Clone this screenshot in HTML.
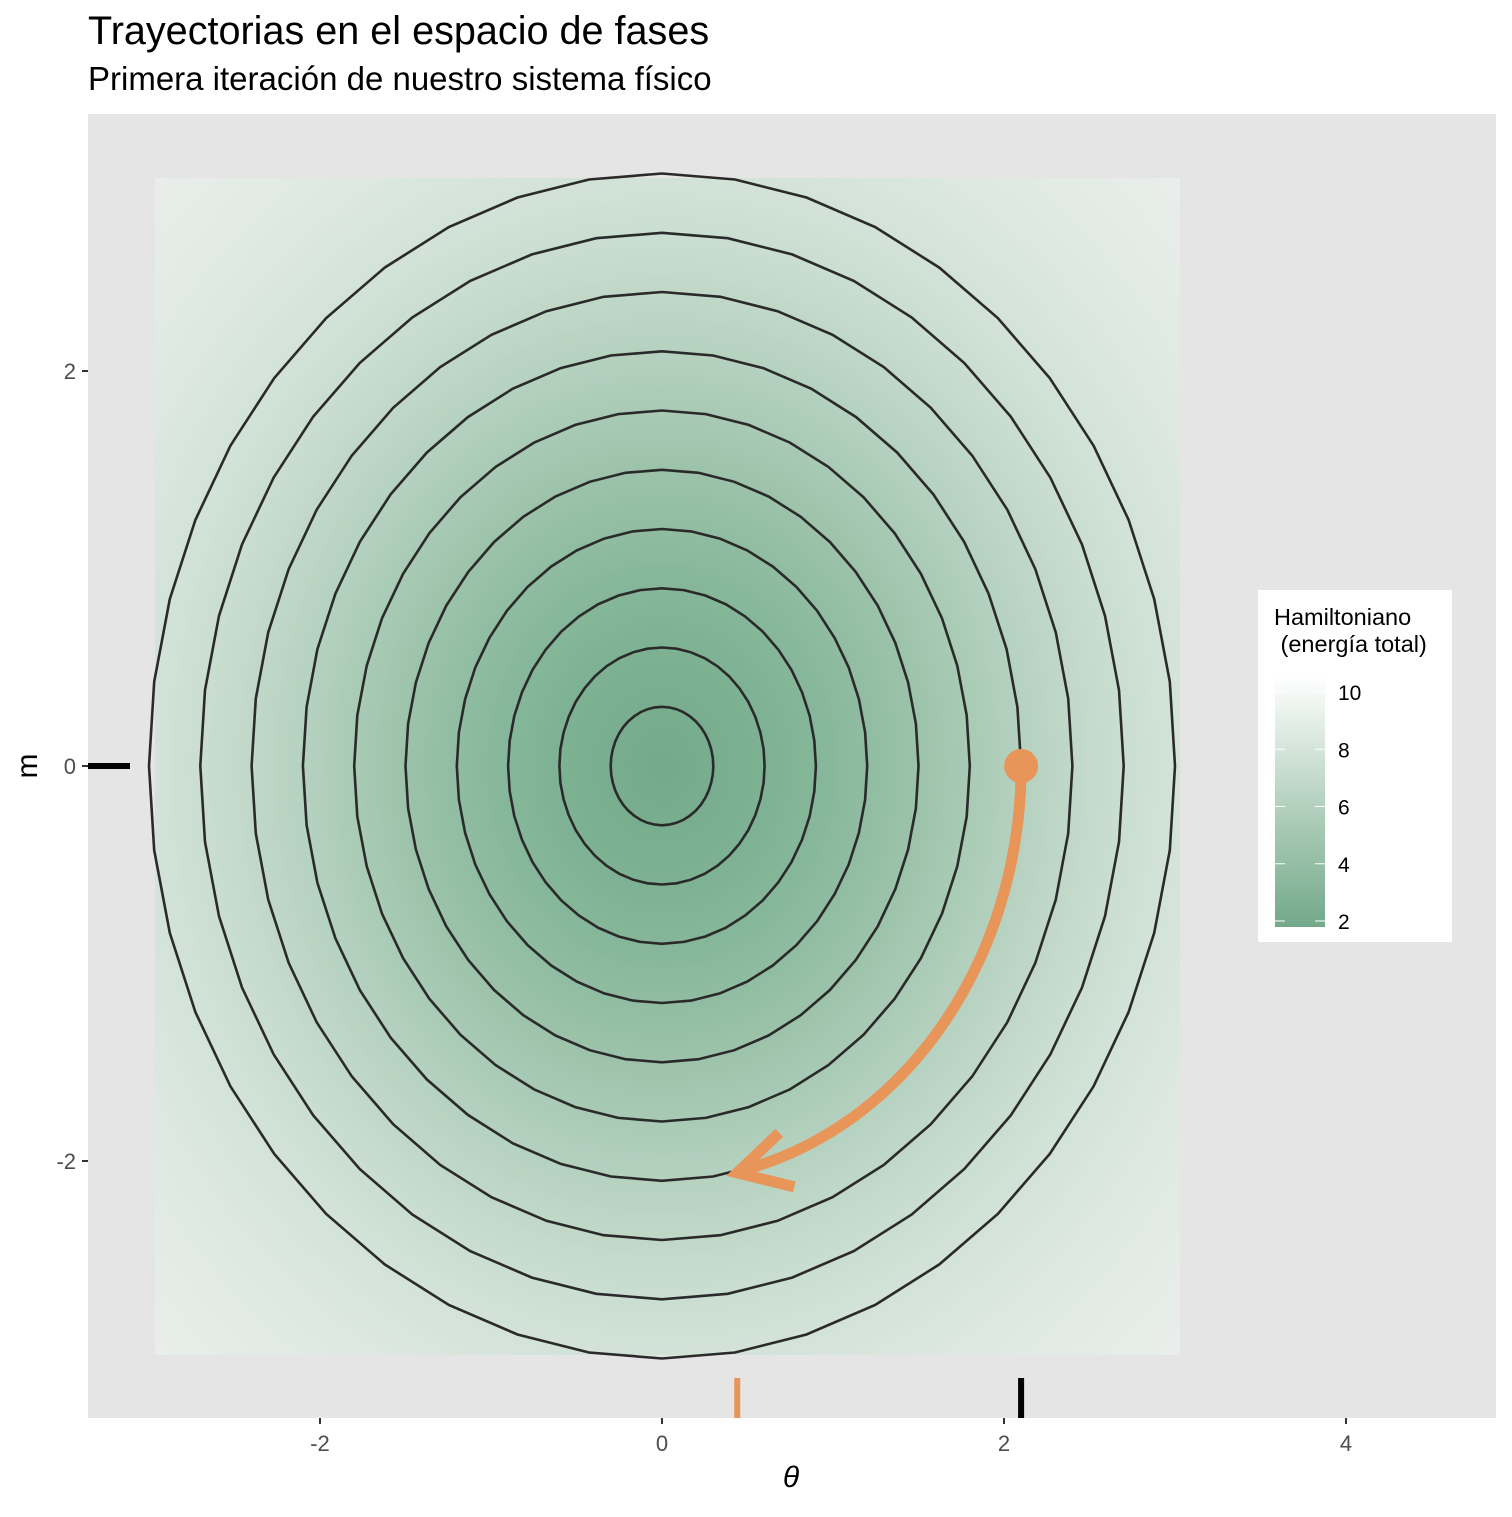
<!DOCTYPE html>
<html><head><meta charset="utf-8"><style>
body{margin:0;background:#fff;}
text{font-family:"Liberation Sans",sans-serif;}
</style></head><body>
<svg width="1512" height="1512" viewBox="0 0 1512 1512" xmlns="http://www.w3.org/2000/svg">
<defs>
<radialGradient id="hgrad" gradientUnits="userSpaceOnUse" cx="662" cy="766" r="855" gradientTransform="translate(662 766) scale(1 1.155) translate(-662 -766)">
<stop offset="0" stop-color="#74aa8b"/>
<stop offset="0.1" stop-color="#7bb091"/>
<stop offset="0.2" stop-color="#88b89b"/>
<stop offset="0.3" stop-color="#9cc3aa"/>
<stop offset="0.4" stop-color="#b1cfbc"/>
<stop offset="0.5" stop-color="#c4dacb"/>
<stop offset="0.6" stop-color="#d3e3d9"/>
<stop offset="0.72" stop-color="#e0eae3"/>
<stop offset="0.85" stop-color="#eaeeeb"/>
<stop offset="1" stop-color="#f0f1f0"/>
</radialGradient>
<linearGradient id="lgrad" x1="0" y1="1" x2="0" y2="0">
<stop offset="0" stop-color="#73a98a"/>
<stop offset="0.5" stop-color="#b6d2c0"/>
<stop offset="1" stop-color="#ffffff"/>
</linearGradient>
</defs>
<text x="88" y="44" font-size="39.6" fill="#000">Trayectorias en el espacio de fases</text>
<text x="88" y="90" font-size="33" fill="#000">Primera iteración de nuestro sistema físico</text>
<rect x="88" y="114" width="1408" height="1304" fill="#e5e5e5"/>
<rect x="155" y="178" width="1025" height="1177" fill="url(#hgrad)"/>
<g id="contours"></g>
<g id="traj"></g>
<g id="axes"></g>
<text x="791" y="1487" font-size="30" font-style="italic" font-family="Liberation Serif,serif" text-anchor="middle">θ</text>
<text transform="translate(37 766) rotate(-90)" font-size="30" text-anchor="middle">m</text>
<g>
<rect x="1258" y="590" width="194" height="352" fill="#fff"/>
<text x="1274" y="625" font-size="23.5">Hamiltoniano</text>
<text x="1274" y="652" font-size="23.5" xml:space="preserve"> (energía total)</text>
<rect x="1275" y="676" width="50" height="251" fill="url(#lgrad)"/>
<g id="legticks"></g>
</g>
</svg>
<script>
const contourRadii=[0.3,0.6,0.9,1.2,1.5,1.8,2.1,2.4,2.7,3.0];
const xTicks=[-2,0,2,4];
const yTicks=[-2,0,2];
const legendValues=[2,4,6,8,10];
const trajStart=[2.1,0];
const trajEnd=[0.44,-2.06];
const ns="http://www.w3.org/2000/svg";
const sx=v=>662+v*171, sy=v=>766-v*197.5;
const ly=v=>921-(v-2)*(921-692)/8;
function mk(t,a,p){const e=document.createElementNS(ns,t);for(const k in a)e.setAttribute(k,a[k]);p.appendChild(e);return e;}
const cg=document.getElementById('contours');
contourRadii.forEach((r,i)=>{let d='';const n=44;for(let k=0;k<=n;k++){const a=2*Math.PI*k/n;d+=(k?'L':'M')+sx(r*Math.cos(a)).toFixed(1)+','+sy(r*Math.sin(a)).toFixed(1);}
const p=mk('path',{d:d+'Z',fill:'none',stroke:'#2a2a2a','stroke-width':2.6},cg);

});
const tg=document.getElementById('traj');
const R=Math.hypot(trajStart[0],trajStart[1]);const a0=Math.atan2(trajStart[1],trajStart[0]),a1=Math.atan2(trajEnd[1],trajEnd[0]);
let d='';for(let k=0;k<=40;k++){const a=a0+(a1-a0)*k/40;d+=(k?'L':'M')+sx(R*Math.cos(a)).toFixed(1)+','+sy(R*Math.sin(a)).toFixed(1);}
const tp=mk('path',{d:d,fill:'none',stroke:'#e8955a','stroke-width':11},tg);


const ex=sx(trajEnd[0]),ey=sy(trajEnd[1]);
const ah=mk('path',{d:`M${ex+42},${ey-40}L${ex},${ey}L${ex+57},${ey+14}`,fill:'none',stroke:'#e8955a','stroke-width':11},tg);


const sp=mk('circle',{cx:sx(trajStart[0]),cy:sy(trajStart[1]),r:17,fill:'#e8955a'},tg);


const r1=mk('line',{x1:sx(trajStart[0]),x2:sx(trajStart[0]),y1:1378,y2:1418,stroke:'#000','stroke-width':6},tg);


const r2=mk('line',{x1:sx(trajEnd[0]),x2:sx(trajEnd[0]),y1:1378,y2:1418,stroke:'#e8955a','stroke-width':6},tg);


const r3=mk('line',{x1:88,x2:130,y1:sy(trajStart[1]),y2:sy(trajStart[1]),stroke:'#000','stroke-width':6},tg);


const ag=document.getElementById('axes');
xTicks.forEach(v=>{const l=mk('line',{x1:sx(v),x2:sx(v),y1:1418,y2:1424,stroke:'#333','stroke-width':2},ag);


const t=mk('text',{x:sx(v),y:1451,'font-size':22,fill:'#4d4d4d','text-anchor':'middle'},ag);t.textContent=v;

});
yTicks.forEach(v=>{const l=mk('line',{x1:82,x2:88,y1:sy(v),y2:sy(v),stroke:'#333','stroke-width':2},ag);


const t=mk('text',{x:76,y:sy(v)+8,'font-size':22,fill:'#4d4d4d','text-anchor':'end'},ag);t.textContent=v;

});
const lg=document.getElementById('legticks');
legendValues.forEach(v=>{const t=mk('text',{x:1338,y:ly(v)+8,'font-size':21,fill:'#000'},lg);t.textContent=v;


mk('line',{x1:1275,x2:1285,y1:ly(v),y2:ly(v),stroke:'#fff','stroke-width':1},lg);
mk('line',{x1:1315,x2:1325,y1:ly(v),y2:ly(v),stroke:'#fff','stroke-width':1},lg);});
</script>
</body></html>
